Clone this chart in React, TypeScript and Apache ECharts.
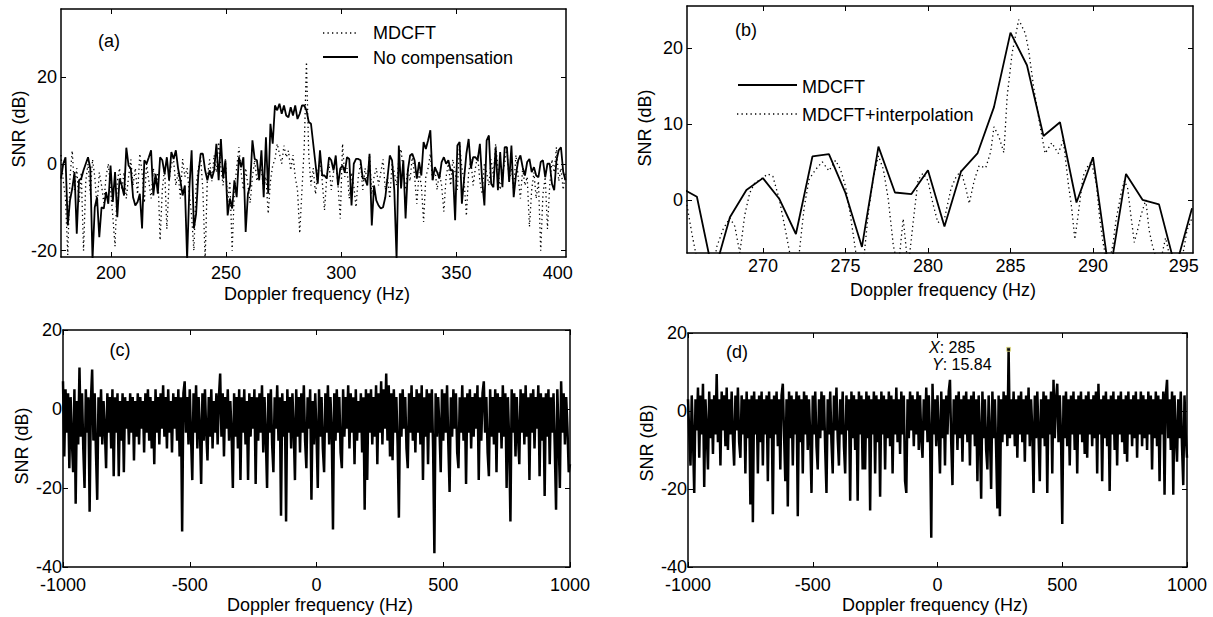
import React, { useEffect, useRef } from "react";
import * as echarts from "echarts";

const FONT = "'Liberation Sans', Arial, Helvetica, sans-serif";

// ---------- Panel (a) ----------
const A_START = 178.3;
const A_STEP = 0.978;
const aNoCompensation = [
  -3.4, 0, 1.5, -14.2, -8.4, -5.7, -1.9, -16.1, -3.8, -3.4,
  -1.5, 0, 1.5, -1.1, -22, -10, -7.7, -16.9, -10, -10.3,
  -6.5, -9.2, -0.4, -8.8, -1.9, -12.3, -3.4, -5, -7.3, 3.7,
  -0.4, -1.1, -7.7, -9.6, -8.8, -6.9, -14.9, 0.8, 0, 1.5,
  3.1, -7.3, -2.3, -6.9, 1.5, 0.8, -2.3, 1.5, -3.8, 2.7,
  1.1, 3.1, -1.1, -3.8, -7.3, -5, -22, -5.7, 3.1, -14.9,
  -11.5, -2.3, 2.3, 2.3, -1.5, -3.8, -1.5, -3.4, -1.5, 4.6,
  -3.8, 5.7, -3.4, 0.8, -11.9, -8, -10.3, -3.8, -7.7, 1.5,
  -0.8, 1.5, -15.7, -6.9, -5, 5.4, 1.1, 0.8, -3.8, 3.1,
  -7.7, 6.1, -6.9, 9.2, 4.6, 13.4, 12.3, 13.8, 11.5, 13.4,
  11.1, 10.7, 13, 11.1, 13.4, 10.3, 11.5, 13.4, 13.4, 12.3,
  9.6, 9.2, 4.6, 0, -4.6,
  3.1, -2.7, -2.7, -3.4, 1.5, 0.8, -1.5, 1.9, -5, -1.1,
  -0.4, -1.9, 1.5, 1.1, -9.6, 0, 1.1, 1.1, 0.8, -3.4,
  -3.4, -5, 2.3, -14.2, -5, -8.4, -9.6, -10.3, -10, -7.7,
  -3.1, 1.9, 0.8, -6.1, -22, 4.2, -5.7, 0.8, -12.6, -1.5,
  1.9, 2.3, 0.8, -3.4, 0.4, -2.7, 5, 3.4, 5.4, 7.7,
  -3.8, -0.8, -1.9, -3.4, 0.4, 1.5, 0, 0.8, -1.5, -1.5,
  -13, 4.2, 5, -9.2, -3.4, 2.3, 5.7, -1.1, 1.5, 1.5,
  0.8, 4.6, -3.8, -9.6, 5.4, 6.5, -4.6, -5.4, 3.8, -6.1,
  2.7, -5.4, 3.8, 3.8, -4.2, 4.2, -7.7, -2.7, 0.8, 1.9,
  -0.8, -2.7, 0.4, 1.1, -1.9, -0.8, -2.7, -3.1, 0.4, 0.8,
  -3.1, 0, 0, -4.6, -6.1, 0.8, 3.1, 3.8, -1.9, -3.8,
];
const aMdcft = [
  2, -4, -8, -21, -3, 3, -6, -1, -9, -2,
  -20, -4, 0, -7, 1, -3, -10, -2, -5, -9,
  -3, 0, -6, -12, -19, -4, -1, -6, -2, -8,
  -3, 1, -5, -1, -7, 2.3, -2, -9, 0, -4,
  -8, -1, -5, -2, -17.6, -6, -1, -15, -4, 0,
  0.8, -5, -2, -8, 1.1, -3, -1, -7, -12, -20,
  -5, -1, 1.5, -6, -22, -3, 1, -4, 2, -2,
  5, -1, -5, 1, -9, -4, -20, -6, -1, 3.8,
  -2, -6, -1, -5, -9, -3, 0.8, -4, -1, -1.5,
  -6, -3, -11.5, -4, -0.4, 1, 4.6, 2.3, 0, 4.2,
  1.5, 3, -1.5, 2, -3, -6, -16, -6, 4, 23.4,
  2, -5, -1, -7, -2, 1, -4, -10.7, -3, 0,
  -6, -2, 1, -5, -12.6, 4.6, -3, -1, -8, -2,
  -5, -10, -3, 0, -6, -1, -4, 2, -7, -3,
  -1, -5, -2, 1, -6, -3, -8, 0, -2, -5,
  1, 3.4, -2, -6, -1, -4, 2, -3, -9.2, -2,
  -5, -13.4, -3, -1, 2.3, -4, -1, -6, -2, -5,
  -11, -3, 0, -5, 1, -2, -6, 4.6, -1, -4,
  -12, -2, 1, -5, -1, 2, -4, -7, 0, -2,
  -5, 1, -3, 4.6, -1, -6, -2, 0, 3.8, -4,
  -1, -6, 2, -3, -8, -1, -5, -3, -14.5, -6,
  -2, -8, -4, -20, -7, -3, -15, -5, 1, -2,
  3.8, -4, -1, -6, -2,
];
const aXTickValues = [200, 250, 300, 350];
const aXLabelValues = [200, 250, 300, 350, 394];
const aYTickValues = [-20, 0, 20];

// ---------- Panel (b) ----------
const B_START = 265;
const B_STEP = 1;
const bMdcft = [
  1.6, 0.4, -10, -2.3, 1.3, 2.85, 0.1, -4.5, 5.7, 6.0,
  0.9, -6.2, 7.0, 0.96, 0.75, 3.9, -3.5, 3.7, 6.1, 12.2,
  22.0, 17.7, 8.4, 10.2, -0.35, 5.6, -10, 3.4, 0, -0.6,
  -9, -1.1,
];
const bInterpFreq = [
  265.0, 265.3, 265.7, 266.2, 266.8, 267.2, 267.6, 268.0, 268.3, 268.6,
  268.9, 269.2, 269.5, 269.8, 270.3, 270.6, 271.0, 271.4, 271.8, 272.2,
  272.5, 272.8, 273.2, 273.6, 274.0, 274.4, 274.7, 275.0, 275.3, 275.7,
  276.1, 276.4, 276.7, 277.0, 277.3, 277.6, 277.9, 278.2, 278.5, 278.8,
  279.1, 279.4, 279.7, 280.0, 280.3, 280.6, 281.0, 281.4, 281.7, 282.0,
  282.3, 282.5, 282.8, 283.1, 283.5, 283.8, 284.0, 284.3, 284.6, 284.8,
  285.1, 285.5, 285.9, 286.1, 286.4, 286.8, 287.1, 287.5, 287.9, 288.2,
  288.5, 288.7, 288.9, 289.1, 289.4, 289.7, 289.9, 290.2, 290.4, 290.6,
  290.9, 291.2, 291.4, 291.7, 291.9, 292.1, 292.3, 292.5, 292.7, 292.9,
  293.2, 293.4, 293.6, 294.0, 294.4, 294.8, 295.3, 295.7, 296.0,
];
const bInterpSnr = [
  1.5, 0.5, -4.5, -10, -12, -6.2, -3.8, -2.4, -3.5, -7,
  -2, 0.9, 2.2, 2.6, 3.4, 3.1, 0, -4.4, -9, -7,
  -1, 2.7, 4, 5, 3.8, 5.2, 4, 1.8, -2, -8,
  -8, -1.5, 3, 5.8, 4, 0, -6, -9, -2.5, -9,
  -3, 2.6, 3.5, 2.5, -0.5, -3, -2.5, 1.5, 3, 3.8,
  1.5, -0.5, 2.5, 4.5, 4.2, 6.3, 9.6, 8.3, 6.2, 13.6,
  19.3, 23.7, 21.9, 19.7, 14.9, 9.6, 6.1, 7.5, 6.1, 7.9,
  2.2, -0.9, -5.2, -2, 3.1, 4.5, 5, 2.2, -2.3, -5.5,
  -9, -6, -2.6, 0.8, 2.5, 1.5, -2.1, -5.6, -4, -2.1,
  0, -4, -6, -9, -5, -9, -9, -4, -2.4,
];
const bXTickValues = [270, 275, 280, 285, 290];
const bXLabelValues = [270, 275, 280, 285, 290, 295.5];
const bYTickValues = [0, 10, 20];

// ---------- Panels (c) and (d) ----------
const C_START = -1000;
const C_STEP = 5;
const cNoCompensation = [
  7, -12, 5, -6, 4, -15, 3, -8, -16, 5, -24, 2, -9, 10.5, -7, 4, -10, -20, 5, -6,
  3, -26, 2, 10, -8, 4, -11, -23, 3, -7, 5, -9, 2, -5, -15, 4, -6, 3, -10, 5,
  -17, 3, -6, 4, -17, 2, -8, 4, -16, 3, -5, 2, -9, 4, -6, 3, -13, 2, -7, 4,
  -9, 3, -5, 2, -11, 4, -6, 5, -8, 3, -10, 2, -14, 5, -6, 3, -9, 4, -5, 6,
  -7, 3, -10, 5, -6, 2, -11, 4, -5, 3, -8, 5, -12, 3, -31, 4, 7, -6, 3, -9,
  5, -7, -18, 4, -6, 6, -10, 3, -5, -19, 4, -8, 5, -6, -13, 3, -7, 5, -10, 2,
  -6, 4, -9, 3, 9, -7, 4, -12, 3, -5, 5, -8, 2, -6, -20, 4, -7, 3, -10, 5,
  -18, 3, -6, 5, -9, 2, -18, 4, -7, 3, -5, 5, -19, 3, -8, 4, -6, 6, -11, 3,
  -7, -20, 4, -6, 5, -9, -16, 3, -5, 6, -8, 3, -27, 4, -7, 2, -28.5, 5, -6, 3,
  -10, 4, -5, -18, 5, -7, 3, -11, 4, -6, 6, -8, -15, 3, -5, 5, -23, 2, -9, 4,
  -6, -20, 5, -7, 3, -10, -16, 4, -6, 6, -9, 3, -5, -30.5, 4, -8, 5, -6, 3, -11,
  -15, 5, -7, 3, -5, 6, -10, 4, -6, 3, -14, 5, -8, 2, -6, 4, -11, 3, -25.5, 5,
  -18, 4, -6, 5, -9, 3, -7, 6, -14, 4, -6, 7, -9, 5, -5, 9, -8, 6, -12, 4,
  -13, 5, -6, 3, -9, -27.5, 4, -7, 5, -5, 3, -10, -15, 4, -6, 6, -8, 3, -11, 5,
  -6, 4, -9, 6, -18, 3, -7, 5, -14, 4, -6, 5, -10, -36.5, 4, -7, 3, -5, -16, 5,
  -8, 4, -6, 6, -9, -21, 3, -7, 5, -5, 4, -11, -15, 3, -6, 6, -8, 3, -19, 4,
  -6, 5, -10, 3, -7, 4, -5, 6, -18, 3, -8, 4, 7, -6, 3, -11, -17, 5, -7, 3,
  -9, 5, -16, 4, -6, 3, -10, 6, -7, 4, -20, 3, -8, -28.5, 5, -6, 4, -12, 3, -7,
  -14, 5, -6, 4, -9, 6, -7, 3, -18, 4, -6, 5, -10, 3, -5, 6, -17, 4, -8, 3,
  -22, 4, -7, 5, -14, 3, -6, 4, -10, -25.5, 5, -7, -20, 7, -6, 4, -9, 3, -5, -16,
  -14,
];
const dMdcft = [
  3, -6, -14, 4, -7, -21, 3, -5, 6, -12, 4, -6, 7, -19.5, 3, -5, -15, 5, -7, 3,
  -11, 4, -6, 9.5, -8, 3, -14, 5, -5, 4, -9, 6, -10, 3, -6, 5, -7, -14, 4, -5,
  6, -8, -12, 4, -6, 3, -16, 5, -7, 3, -24, 4, -28.5, 5, -6, 3, -16, 4, -8, 5,
  -14, 3, -6, 4, -18, 5, -7, 3, -26.5, 4, -6, 5, -9, 3, -15, 4, 7, -6, -18, 3,
  -24.5, 5, -7, 4, -14, 3, -6, 5, -27, 4, -8, 3, -16, 5, -6, 4, -10, 3, -7, -21,
  4, -6, 5, -9, -15, 3, -7, 5, -5, 4, -10, -21, 3, -6, 5, -8, -16, 4, -5, 6,
  -7, -14, 3, -6, 5, -9, -16, 4, -5, 3, -23, 5, -7, 4, -10, 3, -23, 5, -6, 4,
  -15, 3, -15, 5, -7, 4, -25.5, 3, -6, 5, -16, 4, -8, 3, -22, 5, -6, 4, -15, 3,
  -7, 5, -9, 4, -16, 3, -6, 6, -8, 3, -11, 5, -6, 4, -18, -21, 3, -7, 5, -5,
  4, -9, 3, -6, 5, -10, 4, -7, -12, 3, -5, 6, -8, 4, -6, -32.5, 7, -6, 3, -9,
  4, -6, -16, 5, -7, 3, -14, 4, -6, 5, 8, -8, -19, 3, -6, 4, -10, 5, -7, 3,
  -13, 4, -6, 5, -8, 3, -14, 4, -6, 5, -9, 3, -18, 4, -6, -22.5, 5, -7, 3, -10,
  -15, 4, -6, -20, 5, -7, 3, -10, -25, 4, -27, 3, -8, 5, -6, 4, -9, 15.84, -7, 3,
  -6, 5, -9, 3, -12, 4, -6, 5, -8, 3, -13, 4, -6, 6, -9, 3, -5, -21, 4, -7,
  5, -6, -18, 3, -7, 5, -9, 4, -21, 3, -6, 5, -16, 8, -7, 3, 7, -8, 4, -6,
  -29, 4, -7, 5, -9, 3, -14, 4, -6, 5, -10, 3, -16, 4, -6, 5, -8, 3, -11, 4,
  -12, 5, -6, 3, -9, 4, -7, 5, -16, 7, -6, 3, -18, 4, -7, 5, -9, 3, -20.5, 4,
  -6, 5, -10, 3, -14, 4, -6, 5, -8, 3, -11, 4, -13, 5, -6, 3, -9, 4, -7, 5,
  -12, 3, -6, 5, -9, 4, -7, 3, -10, 5, -6, 4, -15, 3, -7, 5, -9, 4, -18, 3,
  -6, 5, -21.5, 4, 8, -7, 3, -10, 5, -21.5, 4, -6, -13, 3, -7, 5, -9, -19, 4, -6,
  -12,
];
const dTipPoint = [285, 15.84];

const toPairs = (start: number, step: number, vals: number[]) =>
  vals.map((v, i) => [start + i * step, v]);

const tickLabelStyle = { color: "#000", fontSize: 18, fontFamily: FONT, lineHeight: 14 };
const plain = (v: number) => String(v);

function bottomAxis(gridIndex: number, extra: any, labelExtra: any, tickExtra: any) {
  return {
    type: "value",
    gridIndex,
    position: "bottom",
    ...extra,
    axisLine: { show: true, onZero: false, lineStyle: { color: "#000", width: 1.5 } },
    axisTick: { show: true, inside: true, length: 5, lineStyle: { color: "#000", width: 1 }, ...tickExtra },
    axisLabel: { show: true, ...tickLabelStyle, formatter: plain, ...labelExtra },
    splitLine: { show: false },
  };
}
function topAxis(gridIndex: number, extra: any, tickExtra: any) {
  return {
    type: "value",
    gridIndex,
    position: "top",
    ...extra,
    axisLine: { show: true, onZero: false, lineStyle: { color: "#000", width: 1.5 } },
    axisTick: { show: true, inside: true, length: 5, lineStyle: { color: "#000", width: 1 }, ...tickExtra },
    axisLabel: { show: false },
    splitLine: { show: false },
  };
}
function leftAxis(gridIndex: number, extra: any, labelExtra: any, tickExtra: any) {
  return {
    type: "value",
    gridIndex,
    position: "left",
    ...extra,
    axisLine: { show: true, onZero: false, lineStyle: { color: "#000", width: 1.5 } },
    axisTick: { show: true, inside: true, length: 5, lineStyle: { color: "#000", width: 1 }, ...tickExtra },
    axisLabel: { show: true, ...tickLabelStyle, formatter: plain, ...labelExtra },
    splitLine: { show: false },
  };
}
function rightAxis(gridIndex: number, extra: any, tickExtra: any) {
  return {
    type: "value",
    gridIndex,
    position: "right",
    ...extra,
    axisLine: { show: true, onZero: false, lineStyle: { color: "#000", width: 1.5 } },
    axisTick: { show: true, inside: true, length: 5, lineStyle: { color: "#000", width: 1 }, ...tickExtra },
    axisLabel: { show: false },
    splitLine: { show: false },
  };
}

function txt(text: string, x: number, y: number, align = "center", rotation = 0, extra: any = {}) {
  return {
    type: "text",
    x,
    y,
    rotation,
    silent: true,
    z: 100,
    style: {
      text,
      fill: "#000",
      fontSize: 18,
      fontFamily: FONT,
      align,
      verticalAlign: "middle",
      textAlign: align,
      textVerticalAlign: "middle",
      ...extra,
    },
  };
}
function seg(x1: number, y1: number, x2: number, y2: number, dotted: boolean) {
  return {
    type: "line",
    silent: true,
    z: 100,
    shape: { x1, y1, x2, y2 },
    style: {
      stroke: "#000",
      lineWidth: dotted ? 1.3 : 1.8,
      lineDash: dotted ? [1.3, 3.2] : null,
    },
  };
}

export default function App() {
  const ref = useRef<HTMLDivElement>(null);
  useEffect(() => {
    if (!ref.current) return;
    const chart = echarts.init(ref.current, null, { renderer: "svg" });

    const aRange = { min: A_START, max: 397.6 };
    const aY = { min: -21.45, max: 35.6 };
    const bRange = { min: 265.4, max: 296.06 };
    const bY = { min: -7, max: 25.5 };
    const cRange = { min: -1000, max: 1000, interval: 500 };
    const cY = { min: -40, max: 20, interval: 20 };
    const tipRich = { i: { fontStyle: "italic", fontSize: 16, fontFamily: FONT } };

    const option: any = {
      animation: false,
      backgroundColor: "#fff",
      grid: [
        { left: 61, top: 9, width: 505, height: 248 },
        { left: 687, top: 6, width: 506, height: 247 },
        { left: 63, top: 330, width: 507, height: 237 },
        { left: 688, top: 333, width: 499, height: 234 },
      ],
      xAxis: [
        bottomAxis(0, aRange,
          { margin: 9, customValues: aXLabelValues, formatter: (v: number) => String(Math.round(v / 50) * 50) },
          { customValues: aXTickValues }),
        topAxis(0, aRange, { customValues: aXTickValues }),
        bottomAxis(1, bRange,
          { margin: 6, customValues: bXLabelValues, formatter: (v: number) => String(Math.round(v / 5) * 5) },
          { customValues: bXTickValues }),
        topAxis(1, bRange, { customValues: bXTickValues }),
        bottomAxis(2, cRange, { margin: 11 }, {}),
        topAxis(2, cRange, {}),
        bottomAxis(3, cRange, { margin: 11 }, {}),
        topAxis(3, cRange, {}),
      ],
      yAxis: [
        leftAxis(0, aY, { margin: 4, customValues: aYTickValues }, { customValues: aYTickValues }),
        rightAxis(0, aY, { customValues: aYTickValues }),
        leftAxis(1, bY, { margin: 4, customValues: bYTickValues }, { customValues: bYTickValues }),
        rightAxis(1, bY, { customValues: bYTickValues }),
        leftAxis(2, cY, { margin: 1 }, {}),
        rightAxis(2, cY, {}),
        leftAxis(3, cY, { margin: 1 }, {}),
        rightAxis(3, cY, {}),
      ],
      series: [
        {
          name: "MDCFT",
          type: "line",
          xAxisIndex: 0,
          yAxisIndex: 0,
          showSymbol: false,
          data: toPairs(A_START, A_STEP, aMdcft),
          lineStyle: { color: "#000", width: 1.3, type: [1.3, 3.2] },
        },
        {
          name: "No compensation",
          type: "line",
          xAxisIndex: 0,
          yAxisIndex: 0,
          showSymbol: false,
          data: toPairs(A_START, A_STEP, aNoCompensation),
          lineStyle: { color: "#000", width: 1.8 },
        },
        {
          name: "MDCFT (b)",
          type: "line",
          xAxisIndex: 2,
          yAxisIndex: 2,
          showSymbol: false,
          data: toPairs(B_START, B_STEP, bMdcft),
          lineStyle: { color: "#000", width: 1.8 },
        },
        {
          name: "MDCFT+interpolation",
          type: "line",
          xAxisIndex: 2,
          yAxisIndex: 2,
          showSymbol: false,
          data: bInterpFreq.map((f, i) => [f, bInterpSnr[i]]),
          lineStyle: { color: "#000", width: 1.3, type: [1.3, 3.2] },
        },
        {
          name: "No compensation (c)",
          type: "line",
          xAxisIndex: 4,
          yAxisIndex: 4,
          showSymbol: false,
          data: toPairs(C_START, C_STEP, cNoCompensation),
          lineStyle: { color: "#000", width: 2.5 },
        },
        {
          name: "MDCFT (d)",
          type: "line",
          xAxisIndex: 6,
          yAxisIndex: 6,
          showSymbol: false,
          data: toPairs(C_START, C_STEP, dMdcft),
          lineStyle: { color: "#000", width: 2.5 },
        },
        {
          name: "Data tip",
          type: "scatter",
          xAxisIndex: 6,
          yAxisIndex: 6,
          symbol: "rect",
          symbolSize: 4,
          data: [dTipPoint],
          itemStyle: { color: "#000", borderColor: "#f5f08a", borderWidth: 1 },
          z: 5,
        },
      ],
      graphic: [
        // panel letters
        txt("(a)", 109, 41),
        txt("(b)", 746, 30),
        txt("(c)", 120, 350),
        txt("(d)", 737, 352),
        // axis titles
        txt("Doppler frequency (Hz)", 317, 294),
        txt("Doppler frequency (Hz)", 943, 290),
        txt("Doppler frequency (Hz)", 320, 605),
        txt("Doppler frequency (Hz)", 935, 605),
        txt("SNR (dB)", 19, 129, "center", Math.PI / 2),
        txt("SNR (dB)", 645, 128, "center", Math.PI / 2),
        txt("SNR (dB)", 22, 446, "center", Math.PI / 2),
        txt("SNR (dB)", 647, 443, "center", Math.PI / 2),
        // legend (a)
        seg(323, 33, 358, 33, true),
        txt("MDCFT", 373, 32.5, "left"),
        seg(323, 57, 358, 57, false),
        txt("No compensation", 373, 57.5, "left"),
        // legend (b)
        seg(738, 85, 797, 85, false),
        txt("MDCFT", 802, 87, "left"),
        seg(737, 114, 797, 114, true),
        txt("MDCFT+interpolation", 802, 115, "left"),
        // data tip (d)
        txt("{i|X}: 285", 929, 347, "left", 0, { fontSize: 16, lineHeight: 14, rich: tipRich }),
        txt("{i|Y}: 15.84", 932, 364, "left", 0, { fontSize: 16, lineHeight: 14, rich: tipRich }),
      ],
    };
    chart.setOption(option);
    return () => chart.dispose();
  }, []);
  return (
    <div
      ref={ref}
      style={{ position: "fixed", left: 0, top: 0, width: 1213, height: 617, background: "#fff" }}
    />
  );
}
